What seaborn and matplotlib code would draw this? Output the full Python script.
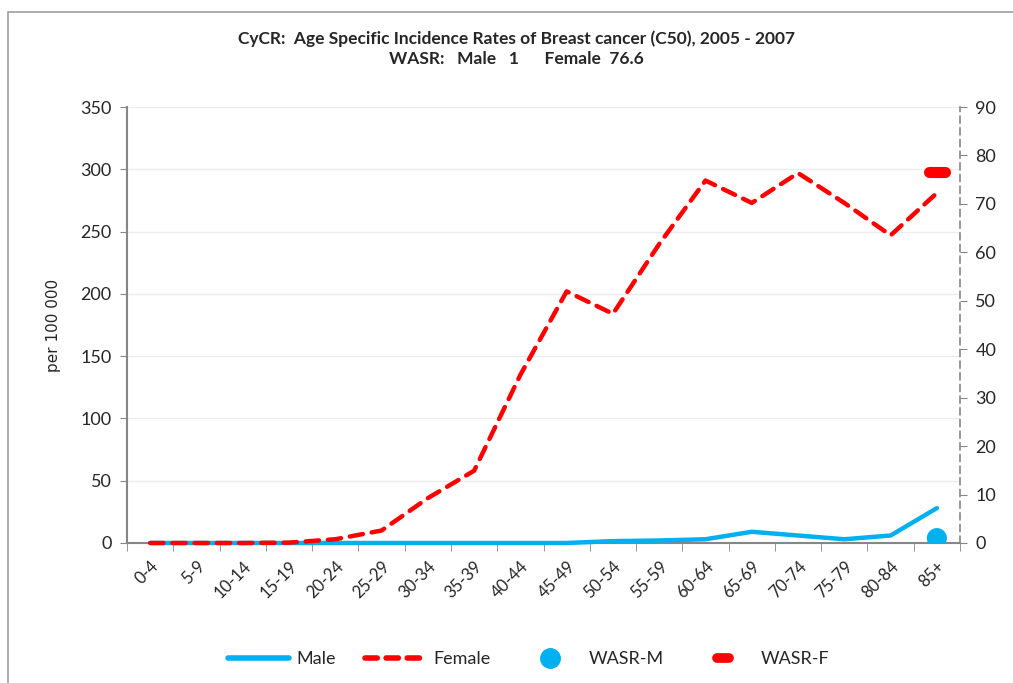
import numpy as np
import pandas as pd
import seaborn as sns
import matplotlib.pyplot as plt
from matplotlib.lines import Line2D
from matplotlib.markers import MarkerStyle
from matplotlib.patches import Rectangle

# Age groups and rates per 100 000
age_groups = ['0-4', '5-9', '10-14', '15-19', '20-24', '25-29', '30-34', '35-39', '40-44',
              '45-49', '50-54', '55-59', '60-64', '65-69', '70-74', '75-79', '80-84', '85+']
male = [0, 0, 0, 0, 0, 0, 0, 0, 0, 0, 1.5, 2, 3, 9, 6, 3, 6, 28]
female = [0, 0, 0, 0.3, 3, 10, 36, 58, 135, 202, 184, 240, 291, 273, 297, 273, 247, 281]
wasr_male = 1
wasr_female = 76.6

MALE_COLOR = '#00b0f0'
FEMALE_COLOR = '#ff0000'
GREY = '#868686'

df = pd.DataFrame({'pos': np.arange(len(age_groups)), 'Male': male, 'Female': female})
wasr = pd.DataFrame({'pos': [len(age_groups) - 1] * 2, 'value': [wasr_male, wasr_female],
                     'label': ['WASR-M', 'WASR-F']})

sns.set_style('white')
plt.rcParams['font.family'] = ['Lato', 'DejaVu Sans']

fig = plt.figure(figsize=(10.13, 6.83), dpi=100)
ax = fig.add_axes([0.1254, 0.205, 0.8223, 0.6383])
ax2 = ax.twinx()

# Main series on the left axis (drawn above the axis line, like Excel)
sns.lineplot(data=df, x='pos', y='Male', ax=ax, color=MALE_COLOR, linewidth=3.2,
             solid_capstyle='round', zorder=4, clip_on=False)
sns.lineplot(data=df, x='pos', y='Female', ax=ax, color=FEMALE_COLOR, linewidth=3.2,
             dashes=False, zorder=5, clip_on=False)
ax.lines[-1].set_dashes((3, 2))
ax.lines[-1].set_dash_capstyle('round')

# WASR markers on the secondary axis
sns.scatterplot(data=wasr[wasr['label'] == 'WASR-M'], x='pos', y='value', ax=ax2,
                color=MALE_COLOR, s=210, edgecolor='none', zorder=5)
ax2.plot(wasr.loc[wasr['label'] == 'WASR-F', 'pos'], wasr.loc[wasr['label'] == 'WASR-F', 'value'],
         linestyle='none', marker=MarkerStyle('_', capstyle='round'), markersize=12,
         markeredgewidth=8, color=FEMALE_COLOR, zorder=5)

# Left axis
ax.set_xlim(-0.5, len(age_groups) - 0.5)
ax.set_ylim(0, 350)
ax.set_yticks(range(0, 351, 50))
ax.yaxis.grid(True, color='#ececec', linewidth=1)
ax.set_axisbelow(True)
ax.set_xlabel('')
ax.set_ylabel('per 100 000', fontsize=11, family='DejaVu Sans', labelpad=14)
ax.tick_params(axis='y', which='major', direction='out', length=5, color=GREY, labelsize=13,
               left=True, pad=6)
ax.set_xticks(range(len(age_groups)))
ax.set_xticklabels(age_groups, rotation=45, ha='right', va='top', rotation_mode='anchor',
                   fontsize=12)
ax.tick_params(axis='x', which='major', length=0, pad=11)
ax.set_xticks(np.arange(-0.5, len(age_groups), 1), minor=True)
ax.tick_params(axis='x', which='minor', direction='out', length=6, color=GREY, bottom=True)
for side in ['top', 'right']:
    ax.spines[side].set_visible(False)
for side in ['left', 'bottom']:
    ax.spines[side].set_color(GREY)
    ax.spines[side].set_linewidth(1.5)

# Right axis
ax2.set_ylim(0, 90)
ax2.set_yticks(range(0, 91, 10))
ax2.set_ylabel('')
ax2.tick_params(axis='y', direction='out', length=5, color=GREY, labelsize=13, right=True, pad=6)
for side in ['top', 'left', 'bottom']:
    ax2.spines[side].set_visible(False)
ax2.spines['right'].set_color(GREY)
ax2.spines['right'].set_linestyle((0, (4, 3)))
ax2.spines['right'].set_linewidth(1.2)
ax2.grid(False)

fig.suptitle('CyCR:  Age Specific Incidence Rates of Breast cancer (C50), 2005 - 2007\n'
             'WASR:   Male   1      Female  76.6',
             x=0.51, y=0.955, fontsize=12.5, fontweight='bold', linespacing=1.3)

handles = [
    Line2D([0], [0], color=MALE_COLOR, linewidth=4, solid_capstyle='round'),
    Line2D([0], [0], color=FEMALE_COLOR, linewidth=4, dashes=(2.2, 1.6), dash_capstyle='round'),
    Line2D([0], [0], color=MALE_COLOR, linestyle='none', marker='o', markersize=14),
    Line2D([0], [0], color=FEMALE_COLOR, linestyle='none',
           marker=MarkerStyle('_', capstyle='round'), markersize=9, markeredgewidth=7),
]
fig.legend(handles, ['Male', 'Female', 'WASR-M', 'WASR-F'], loc='center',
           bbox_to_anchor=(0.522, 0.035), ncol=4, frameon=False, fontsize=13,
           handlelength=3.4, columnspacing=1.6, handletextpad=0.4)

fig.patches.append(Rectangle((8 / 1013, -0.1), 1.2, 1 - 12 / 683 + 0.1, transform=fig.transFigure,
                             fill=False, edgecolor='#a0a0a0', linewidth=1.2))

fig.savefig('out.png', dpi=100)
